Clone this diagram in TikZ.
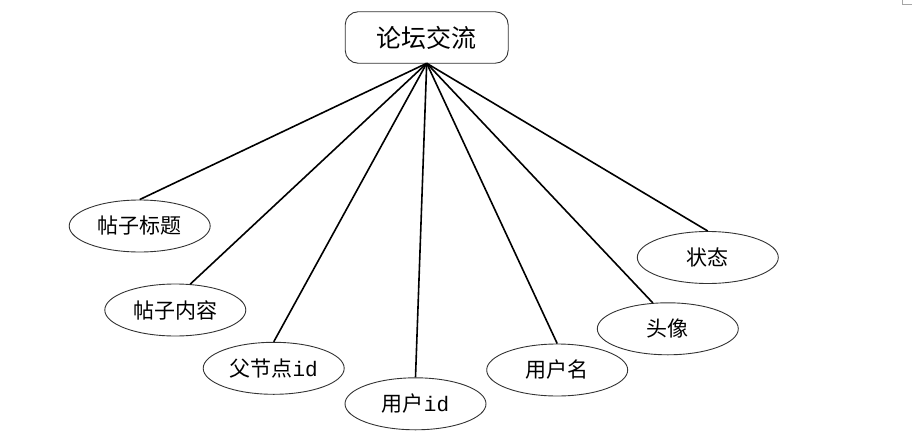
\documentclass[tikz,border=0pt]{standalone}
\usepackage{fontspec}
\usetikzlibrary{shapes.geometric}
\newfontfamily\cjk{Noto Sans CJK SC}
\newfontfamily\monoid{Liberation Mono}
\definecolor{edgegray}{HTML}{333333}
\begin{document}
\begin{tikzpicture}[x=1pt,y=-1pt,
  attr/.style={ellipse,draw=edgegray,line width=0.9pt,minimum width=141pt,minimum height=52pt,inner sep=0pt,font=\cjk\fontsize{21}{25}\selectfont},
  entity/.style={rounded corners=13pt,draw=edgegray,line width=0.9pt,minimum width=163pt,minimum height=51.5pt,inner sep=0pt,font=\cjk\fontsize{25}{29}\selectfont},
  link/.style={line width=1.6pt,black}]
\useasboundingbox (0,0) rectangle (912,436);
\node[entity] (top) at (426.7,37.5) {论坛交流};
\coordinate (apex) at (426.7,63.3);
\node[attr] (t1) at (139.7,226) {帖子标题};
\node[attr] (t2) at (175.3,310) {帖子内容};
\node[attr] (t3) at (273.7,368.3) {父节点{\monoid id}};
\node[attr] (t4) at (415.5,403.8) {用户{\monoid id}};
\node[attr] (t5) at (557.2,370) {用户名};
\node[attr] (t6) at (667.8,328.8) {头像};
\node[attr] (t7) at (707.8,257.5) {状态};
\draw[link] (apex) -- (t1.north);
\draw[link] (apex) -- (t2.60);
\draw[link] (apex) -- (t3.north);
\draw[link] (apex) -- (t4.north);
\draw[link] (apex) -- (t5.north);
\draw[link] (apex) -- (t6.120);
\draw[link] (apex) -- (t7.north);
\coordinate (c1) at (902.7,0);
\coordinate (c2) at (902.7,4.3);
\coordinate (c3) at (912,4.3);
\draw[gray!70,line width=0.6pt] (c1) -- (c2) -- (c3);
\end{tikzpicture}
\end{document}
